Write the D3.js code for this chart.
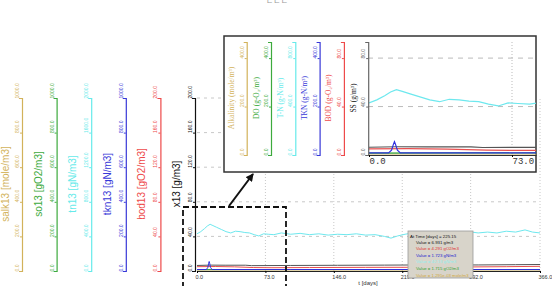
<!DOCTYPE html>
<html lang="en">
<head>
<meta charset="UTF-8">
<script src="https://d3js.org/d3.v7.min.js"></script>
<title>Layer 13 concentrations</title>
<style>
  body { margin: 0; background: #fff; }
  svg { font-family: Arial, "Liberation Sans", sans-serif; display: block; }
</style>
</head>
<body>
<div id="chart"></div>
<script>
// time ticks (days)
const timeTicks = [0, 73, 146, 219, 292, 366];
const insetTimeTicks = [0, 73];

// left axes of the main chart
const axisNames = ["salk13 [mole/m3]", "so13 [gO2/m3]", "tn13 [gN/m3]", "tkn13 [gN/m3]", "bod13 [gO2/m3]", "x13 [g/m3]"];
const axisMax = [1000, 1000, 2000, 1000, 200, 200];

// axes of the zoomed inset
const insetNames = ["Alkalinity (mole/m³)", "DO (g-O₂/m³)", "T-N (g-N/m³)", "TKN (g-N/m³)", "BOD (g-O₂/m³)", "SS (g/m³)"];
const insetTop = [400, 400, 800, 400, 80, 80];

// series, in x13 plot units
const tnDays = [0, 4, 8, 11, 14, 17, 21, 26, 31, 36, 41, 46, 51, 56, 61, 66, 71, 76, 82, 90, 100, 110, 120, 130, 140, 150, 160, 170, 180, 190, 200, 207, 214, 222, 230, 240, 250, 260, 270, 280, 290, 300, 310, 320, 330, 340, 350, 358, 366];
const tnValues = [43, 45.5, 49, 52, 54, 52.5, 50.5, 48, 45.5, 44, 46, 45.5, 44.5, 44, 42, 40.5, 43, 42.5, 42, 44, 42.5, 43.5, 42, 43, 41.5, 42.5, 42, 43, 41.5, 42, 40, 38, 40.5, 42.5, 44, 43, 44.5, 43.5, 45, 44, 45.5, 44, 45, 44, 46, 45, 47.5, 45, 44];

const x13Days = [0, 14, 30, 52, 58, 100, 150, 200, 225, 260, 300, 340, 366];
const x13Values = [6.4, 6.8, 6.7, 6.7, 6.2, 6.4, 6.6, 6.8, 6.93, 6.9, 7.0, 7.3, 7.5];

const bodDays = [0, 20, 40, 60, 80, 120, 180, 225, 280, 330, 366];
const bodValues = [5.0, 5.2, 4.8, 4.0, 3.8, 4.0, 4.2, 4.29, 4.6, 5.0, 5.4];

const tknDays = [0, 10, 11.5, 12.5, 13, 13.5, 14.5, 16, 20, 100, 225, 366];
const tknValues = [1.7, 1.7, 4, 9, 11, 9, 4, 1.7, 1.7, 1.7, 1.72, 1.7];

const soDays = [0, 100, 225, 366];
const soValues = [1.6, 1.7, 1.715, 1.7];

const salkDays = [0, 366];
const salkValues = [0.0013, 0.0013];

// hover read-out
const hoverText = "At Time [days] = 225.15";
const hoverValues = ["Value = 6.931 g/m3", "Value = 4.291 gO2/m3", "Value = 1.723 gN/m3", "Value = 42.13 gN/m3", "Value = 1.715 gO2/m3", "Value = 1.291e-03 mole/m3"];

const axisColors = ["#d2b25a", "#3daa3d", "#66eaea", "#3838d8", "#ee4a4a", "#111"];
const hoverColors = ["#111", "#e03030", "#2020d0", "#8ff0f0", "#30a030", "#d0a840"];

const svg = d3.select("#chart").append("svg").attr("width", 552).attr("height", 286);
const fmt = d3.format(".1f");

// tiny cut caption at the top
svg.append("text").attr("x", 266).attr("y", 4).attr("font-size", 8)
  .attr("fill", "#999").attr("font-family", "Noto Sans CJK KR").text("ㄷㄷㄷ");

// ---------- main chart ----------
const x = d3.scaleLinear().domain([0, 366]).range([197, 540]);
const y = d3.scaleLinear().domain([0, 200]).range([271, 98]);

// grid
svg.append("g").selectAll("line").data(d3.range(40, 201, 40)).join("line")
  .attr("x1", x(0)).attr("x2", x(366)).attr("y1", d => y(d)).attr("y2", d => y(d))
  .attr("stroke", "#c8c8c8").attr("stroke-dasharray", "3,4");
svg.append("g").selectAll("line").data(timeTicks.slice(1)).join("line")
  .attr("x1", d => x(d)).attr("x2", d => x(d)).attr("y1", y(0)).attr("y2", y(200))
  .attr("stroke", "#c8c8c8").attr("stroke-dasharray", "1,2");

const series = [
  { days: tnDays, values: tnValues, color: "#6ee8ee" },
  { days: salkDays, values: salkValues, color: "#d2b25a" },
  { days: bodDays, values: bodValues, color: "#e85050" },
  { days: x13Days, values: x13Values, color: "#555" },
  { days: soDays, values: soValues, color: "#2a9a2a" },
  { days: tknDays, values: tknValues, color: "#3030e0" }
];

function drawSeries(g, sx, sy, width) {
  const line = d3.line().x(d => sx(d[0])).y(d => sy(d[1]));
  g.selectAll("path.s").data(series).join("path").attr("class", "s")
    .attr("d", s => line(d3.zip(s.days, s.values)))
    .attr("fill", "none").attr("stroke", s => s.color).attr("stroke-width", width);
}
drawSeries(svg.append("g"), x, y, 1);

function vAxis(xPos, scale, ticks, color, fs, lineW) {
  const g = svg.append("g").attr("transform", `translate(${xPos},0)`)
    .call(d3.axisLeft(scale).tickValues(ticks).tickSize(2).tickSizeOuter(3).tickFormat(fmt));
  g.select(".domain").attr("stroke", color).attr("stroke-width", lineW);
  g.selectAll(".tick line").attr("stroke", color);
  g.selectAll(".tick text")
    .attr("x", 0).attr("y", 0).attr("dy", 0)
    .attr("transform", "translate(-3,0) rotate(-90)")
    .attr("text-anchor", "start")
    .attr("fill", color).attr("font-size", fs);
  return g;
}

axisNames.forEach((name, i) => {
  const ax = 22 + i * 34.6;
  const sc = d3.scaleLinear().domain([0, axisMax[i]]).range([271, 98]);
  vAxis(ax, sc, d3.range(6).map(k => axisMax[i] * k / 5), axisColors[i], 5, 1.2);
  svg.append("text").attr("transform", `translate(${Math.max(ax - 15, 8.5)},184) rotate(-90)`)
    .attr("text-anchor", "middle").attr("font-size", 10).attr("fill", axisColors[i]).text(name);
});

// time axis
const xa = svg.append("g").attr("transform", `translate(0,${y(0)})`)
  .call(d3.axisBottom(x).tickValues(timeTicks).tickSize(2).tickSizeOuter(0).tickFormat(fmt));
xa.select(".domain").attr("stroke", "#222");
xa.selectAll(".tick text").attr("x", -2).attr("y", 4).attr("text-anchor", "start")
  .attr("font-size", 5.5).attr("fill", "#333");
svg.append("text").attr("x", 368).attr("y", 285).attr("text-anchor", "middle")
  .attr("font-size", 6).attr("fill", "#333").text("t [days]");

// zoom frame and arrow
svg.append("rect").attr("x", 183).attr("y", 207).attr("width", 103).attr("height", 95)
  .attr("fill", "none").attr("stroke", "#111").attr("stroke-width", 1.8).attr("stroke-dasharray", "6,3");
svg.append("defs").append("marker").attr("id", "arr")
  .attr("markerUnits", "userSpaceOnUse").attr("markerWidth", 8).attr("markerHeight", 8)
  .attr("refX", 7).attr("refY", 4).attr("orient", "auto")
  .append("path").attr("d", "M0,0L8,4L0,8z").attr("fill", "#111");
svg.append("line").attr("x1", 229).attr("y1", 206).attr("x2", 253).attr("y2", 174)
  .attr("stroke", "#111").attr("stroke-width", 2).attr("marker-end", "url(#arr)");

// ---------- inset ----------
svg.append("rect").attr("x", 224).attr("y", 36).attr("width", 312).attr("height", 136)
  .attr("fill", "#fff").attr("stroke", "#333").attr("stroke-width", 1.5);

const ix = d3.scaleLinear().domain([0, 85.25]).range([369, 536]);
const iy = d3.scaleLinear().domain([0, 93.3]).range([155, 42]);

svg.append("g").selectAll("line").data([40, 80]).join("line")
  .attr("x1", 368).attr("x2", 536).attr("y1", d => iy(d)).attr("y2", d => iy(d))
  .attr("stroke", "#bbb").attr("stroke-dasharray", "5,5");
svg.append("line").attr("x1", ix(73)).attr("x2", ix(73)).attr("y1", 42).attr("y2", 155)
  .attr("stroke", "#bbb").attr("stroke-dasharray", "1,2");

svg.append("clipPath").attr("id", "insetClip").append("rect")
  .attr("x", 369).attr("y", 40).attr("width", 167).attr("height", 116);
drawSeries(svg.append("g").attr("clip-path", "url(#insetClip)"), ix, iy, 1.2);

const insetColors = ["#d2b25a", "#3daa3d", "#66eaea", "#3838d8", "#ee4a4a", "#666"];
insetNames.forEach((name, i) => {
  const ax = 246.7 + i * 24.3;
  const top = insetTop[i];
  const sc = d3.scaleLinear().domain([0, top * 93.3 / 80]).range([155, 42]);
  vAxis(ax, sc, [0, top / 2, top], insetColors[i], 5, 1.2);
  svg.append("text").attr("transform", `translate(${ax - 12.5},98) rotate(-90)`)
    .attr("text-anchor", "middle").attr("font-size", 7.5)
    .attr("font-family", "Liberation Serif, serif")
    .attr("fill", i === 5 ? "#222" : insetColors[i]).text(name);
});

const ixa = svg.append("g").attr("transform", "translate(0,155)")
  .call(d3.axisBottom(ix).tickValues(insetTimeTicks).tickSize(2).tickSizeOuter(0).tickFormat(fmt));
ixa.select(".domain").attr("stroke", "#333").attr("stroke-width", 1.2);
ixa.selectAll(".tick text").attr("x", 0).attr("y", 3).attr("text-anchor", "start")
  .attr("font-size", 9).attr("font-family", "Liberation Mono, monospace").attr("fill", "#333");

// ---------- hover read-out ----------
const tip = svg.append("g");
tip.append("rect").attr("x", 408).attr("y", 231).attr("width", 65).attr("height", 47)
  .attr("fill", "#d8d4ca").attr("stroke", "#999").attr("stroke-width", 0.8);
tip.append("text").attr("x", 410).attr("y", 237.6).attr("font-size", 4.4).attr("fill", "#111").text(hoverText);
tip.selectAll("text.v").data(hoverValues).join("text").attr("class", "v")
  .attr("x", 416).attr("y", (d, i) => 243.5 + i * 6.6)
  .attr("font-size", 4.3).attr("fill", (d, i) => hoverColors[i]).text(d => d);
</script>
</body>
</html>
